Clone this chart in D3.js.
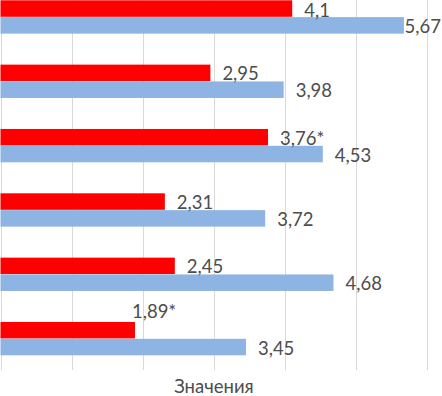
<!DOCTYPE html>
<html>
<head>
<meta charset="utf-8">
<script src="https://cdn.jsdelivr.net/npm/d3@7"></script>
<style>
  html, body { margin: 0; padding: 0; background: #fff; overflow: hidden; }
  svg { display: block; }
</style>
</head>
<body>
<svg id="chart" width="442" height="396"></svg>
<script>
// ---- data ----
const categories = ["Группа 1", "Группа 2", "Группа 3", "Группа 4", "Группа 5", "Группа 6"];
const seriesNames = ["Серия 1", "Серия 2"];
const redValues  = [4.1, 2.95, 3.76, 2.31, 2.45, 1.89];
const blueValues = [5.67, 3.98, 4.53, 3.72, 4.68, 3.45];
const redLabels  = ["4,1", "2,95", "3,76*", "2,31", "2,45", "1,89*"];
const blueLabels = ["5,67", "3,98", "4,53", "3,72", "4,68", "3,45"];
const xTicks = [0, 1, 2, 3, 4, 5, 6];
const axisTitle = "Значения";

// ---- layout ----
const W = 442, H = 396;
const svg = d3.select("#chart");
const font = "Lato, 'Open Sans', sans-serif";
const fontSize = 18.5;
const textColor = "#4d4d4d";
const colors = ["#ff0000", "#8db4e2"];

const x = d3.scaleLinear().domain([0, 6]).range([0.5, 427.4]);
const y0 = d3.scaleBand().domain(categories).range([-15.2, 370.8])
  .paddingInner(0.4715).paddingOuter(0.2357);
const y1 = d3.scaleBand().domain(seriesNames).range([0, y0.bandwidth()]).padding(0.02);

// gridlines
svg.append("g").selectAll("line").data(xTicks).join("line")
  .attr("x1", d => Math.round(x(d)) + 0.5).attr("x2", d => Math.round(x(d)) + 0.5)
  .attr("y1", 0).attr("y2", 370)
  .attr("stroke", "#d9d9d9").attr("stroke-width", 1);

const series = [
  { name: seriesNames[0], values: redValues, labels: redLabels, color: colors[0] },
  { name: seriesNames[1], values: blueValues, labels: blueLabels, color: colors[1] }
];

const rows = [];
series.forEach((s, si) => {
  categories.forEach((c, i) => {
    rows.push({ cat: c, i, si, series: s.name, value: s.values[i], label: s.labels[i], color: s.color });
  });
});

svg.append("g").selectAll("rect").data(rows).join("rect")
  .attr("x", x(0))
  .attr("y", d => y0(d.cat) + y1(d.series))
  .attr("width", d => x(d.value) - x(0))
  .attr("height", y1.bandwidth())
  .attr("fill", d => d.color);

// labels
const lg = svg.append("g").attr("font-family", font).attr("font-size", fontSize).attr("fill", textColor);
rows.forEach(d => {
  const yTop = y0(d.cat) + y1(d.series);
  const yc = yTop + y1.bandwidth() / 2;
  const t = lg.append("text").text(d.label);
  const tw = t.node().getComputedTextLength();
  let tx, ty;
  if (d.si === 0 && d.i === categories.length - 1) {
    // placed above the bar
    tx = x(d.value) - 3;
    ty = yTop - 4;
  } else {
    tx = Math.min(x(d.value) + 12, W - tw - 1);
    ty = Math.max(yc + 7.5, 17);
  }
  t.attr("x", tx).attr("y", ty);
});

// axis title
svg.append("text")
  .attr("x", (x(0) + x(6)) / 2).attr("y", 392.5)
  .attr("text-anchor", "middle")
  .attr("font-family", font).attr("font-size", fontSize).attr("fill", textColor)
  .text(axisTitle);
</script>
</body>
</html>
